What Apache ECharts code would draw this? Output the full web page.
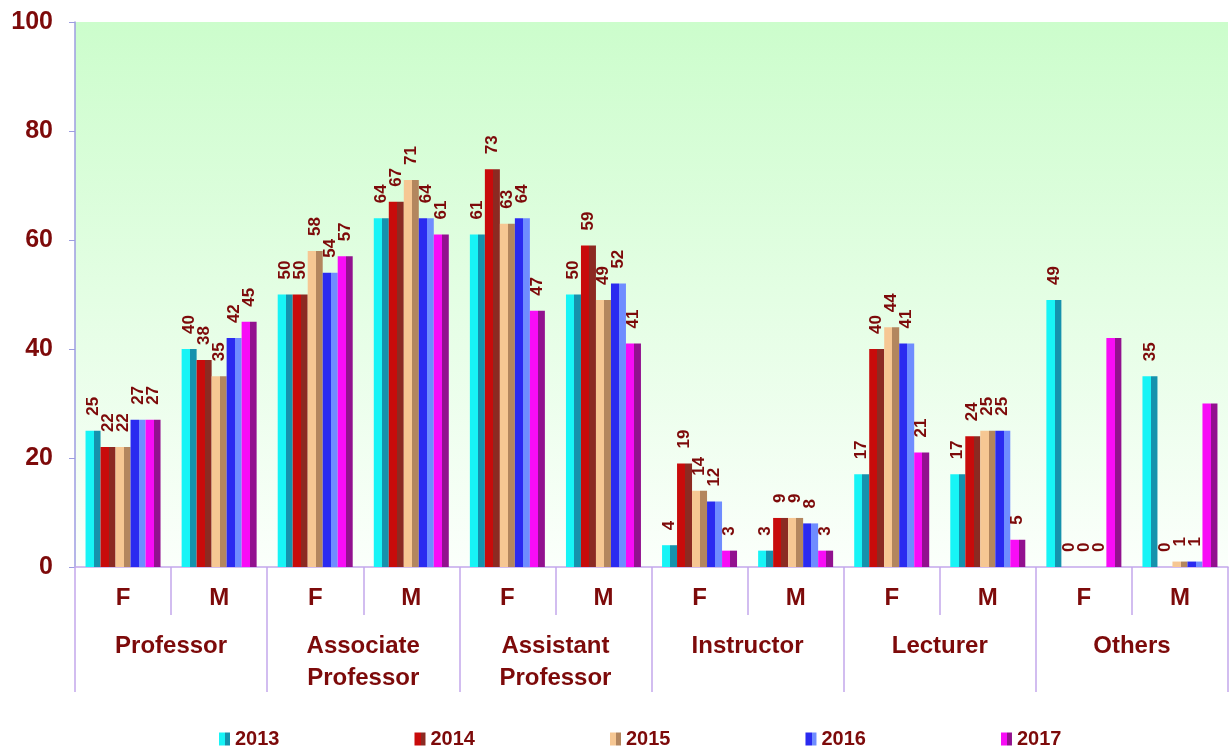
<!DOCTYPE html>
<html>
<head>
<meta charset="utf-8">
<script src="https://cdn.jsdelivr.net/npm/echarts@6/dist/echarts.min.js"></script>
<style>
  html, body { margin: 0; padding: 0; background: #fff; }
  #chart { width: 1230px; height: 748px; }
</style>
</head>
<body>
<div id="chart"></div>
<script>
  // sub categories (gender) and their parent groups
  const genders = ['F', 'M', 'F', 'M', 'F', 'M', 'F', 'M', 'F', 'M', 'F', 'M']
  const groups = ['Professor', 'Associate\nProfessor', 'Assistant\nProfessor', 'Instructor', 'Lecturer', 'Others']
  const years = ['2013', '2014', '2015', '2016', '2017']

  const y2013 = [25, 40, 50, 64, 61, 50, 4, 3, 17, 17, 49, 35]
  const y2014 = [22, 38, 50, 67, 73, 59, 19, 9, 40, 24, 0, 0]
  const y2015 = [22, 35, 58, 71, 63, 49, 14, 9, 44, 25, 0, 1]
  const y2016 = [27, 42, 54, 64, 64, 52, 12, 8, 41, 25, 0, 1]
  const y2017 = [27, 45, 57, 61, 47, 41, 3, 3, 21, 5, 42, 30]
  const unlabeled2017 = [10, 11] // no value shown in the original

  const yTicks = [0, 20, 40, 60, 80, 100]

  const textColor = '#7d0a0a'
  const lineColor = '#c4a8ec'

  // light left half, darker right half -> bevelled look
  const bevel = (light, dark) => ({
    type: 'linear', x: 0, y: 0, x2: 1, y2: 0,
    colorStops: [
      { offset: 0, color: light }, { offset: 0.55, color: light },
      { offset: 0.55, color: dark }, { offset: 1, color: dark }
    ]
  })
  const fills = [
    bevel('#17f4f6', '#1592ad'),
    bevel('#c80b0b', '#8c2a22'),
    bevel('#f6c793', '#b3865e'),
    bevel('#2a2af0', '#6f8cff'),
    bevel('#f80cf6', '#92118f')
  ]

  const seriesData = [y2013, y2014, y2015, y2016, y2017]

  const chart = echarts.init(document.getElementById('chart'))

  chart.setOption({
    animation: false,
    grid: {
      left: 75, right: 2, top: 22, bottom: 181,
      show: true,
      borderWidth: 0,
      backgroundColor: {
        type: 'linear', x: 0, y: 0, x2: 0, y2: 1,
        colorStops: [{ offset: 0, color: '#ccfdcc' }, { offset: 1, color: '#fbfffb' }]
      }
    },
    legend: {
      top: 724,
      left: 214,
      itemGap: 135,
      itemWidth: 11,
      itemHeight: 13,
      icon: 'rect',
      data: years,
      textStyle: {
        color: textColor, fontSize: 20, fontWeight: 'bold',
        fontFamily: 'Liberation Sans, Arial'
      }
    },
    xAxis: [{
      type: 'category',
      data: genders,
      axisLine: { lineStyle: { color: lineColor, width: 1.5 } },
      axisTick: { show: true, interval: 0, length: 48, lineStyle: { color: lineColor, width: 1.5 } },
      axisLabel: {
        interval: 0, margin: 19, color: textColor, fontSize: 24, fontWeight: 'bold',
        fontFamily: 'Liberation Sans, Arial'
      }
    }, {
      type: 'category',
      data: groups,
      position: 'bottom',
      axisLine: { show: false },
      axisTick: { show: true, interval: 0, length: 125, lineStyle: { color: lineColor, width: 1.5 } },
      axisLabel: {
        interval: 0, margin: 63, color: textColor, fontSize: 24, fontWeight: 'bold',
        verticalAlign: 'top', lineHeight: 32,
        fontFamily: 'Liberation Sans, Arial'
      }
    }],
    yAxis: {
      type: 'value',
      min: yTicks[0],
      max: yTicks[yTicks.length - 1],
      interval: 20,
      splitLine: { show: false },
      axisLine: { show: true, lineStyle: { color: '#9d9de0', width: 1.5 } },
      axisTick: { show: true, length: 6, lineStyle: { color: '#9d9de0' } },
      axisLabel: {
        margin: 22, color: textColor, fontSize: 25, fontWeight: 'bold',
        fontFamily: 'Liberation Sans, Arial'
      }
    },
    series: seriesData.map((vals, i) => ({
      name: years[i],
      type: 'bar',
      xAxisIndex: 0,
      barWidth: 15,
      barGap: '0%',
      itemStyle: { color: fills[i] },
      label: {
        show: true,
        position: 'top',
        rotate: 90,
        align: 'left',
        verticalAlign: 'middle',
        distance: 15,
        color: textColor,
        fontSize: 17,
        fontWeight: 'bold',
        fontFamily: 'Liberation Sans, Arial'
      },
      data: vals.map((v, k) => (i === 4 && unlabeled2017.includes(k))
        ? { value: v, label: { show: false } }
        : v)
    }))
  })
</script>
</body>
</html>
